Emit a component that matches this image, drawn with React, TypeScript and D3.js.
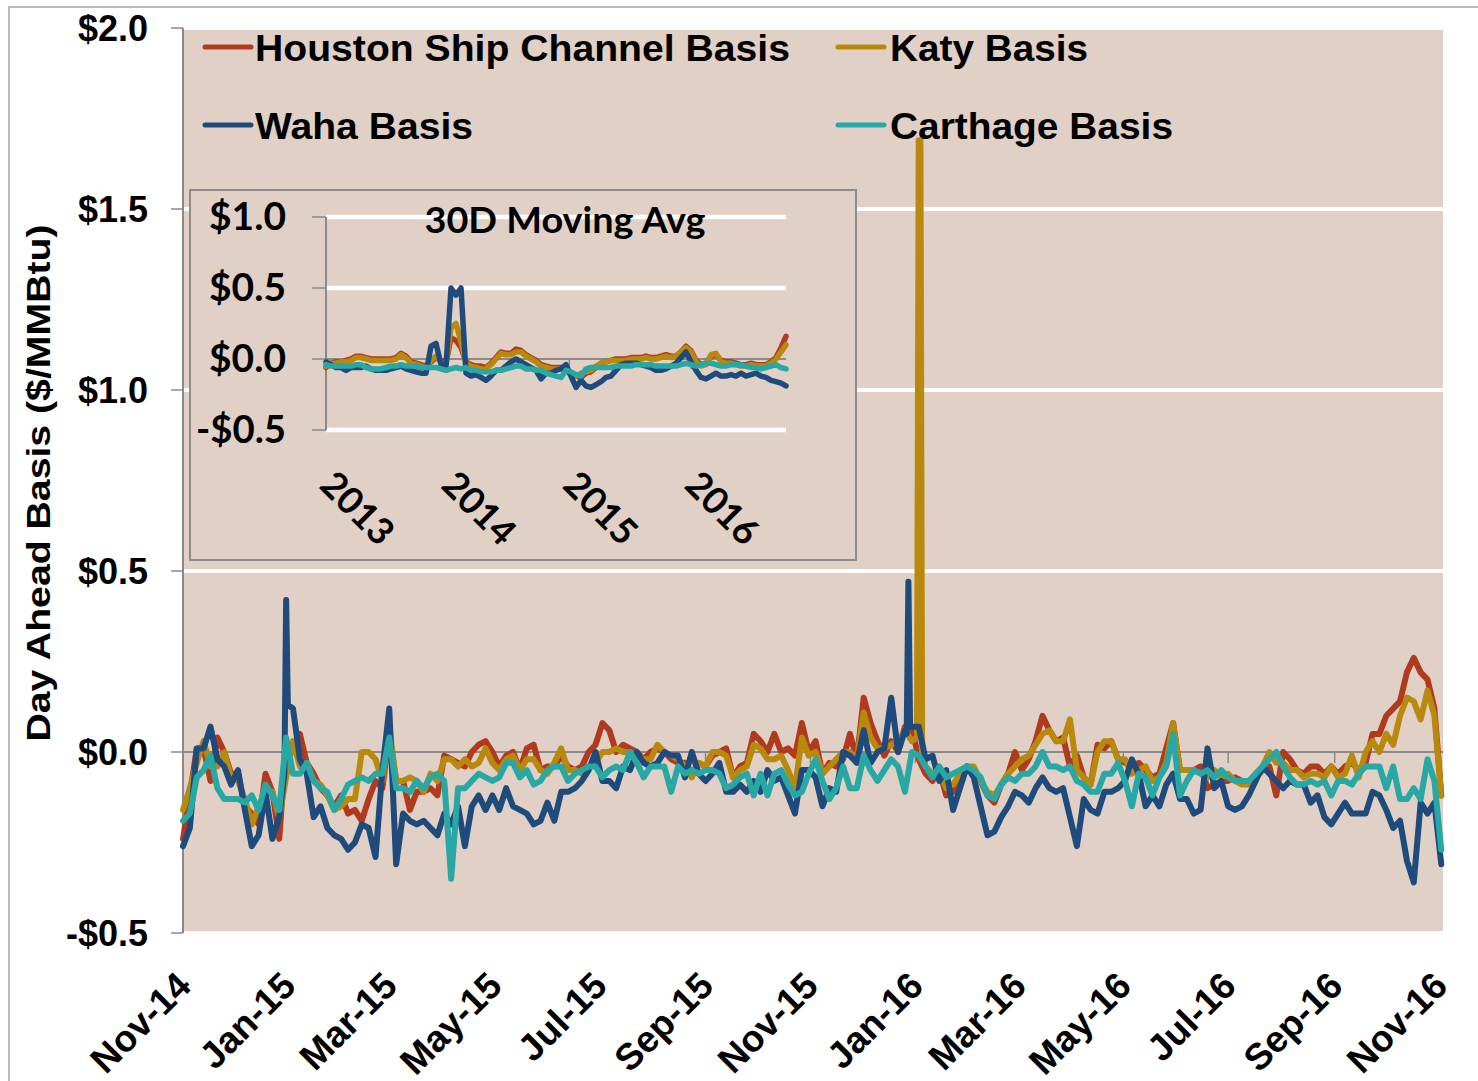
import React from "react";
import * as d3 from "d3";

// ---------- Main chart data (sampled every 4 days from 1 Nov 2014) ----------
const MAIN_START = "2014-11-01";
const MAIN_END = "2016-11-03";
const MAIN_STEP_DAYS = 4;

const hscBasis = [
  -0.24,-0.12,0.01,0.01,-0.08,0.04,0.0,-0.06,-0.06,-0.15,
  -0.17,-0.20,-0.06,-0.11,-0.24,0.02,0.01,0.05,-0.03,-0.06,
  -0.10,-0.12,-0.15,-0.12,-0.17,-0.16,-0.19,-0.13,-0.08,-0.10,
  0.05,-0.08,-0.08,-0.16,-0.11,-0.11,-0.10,-0.12,-0.01,-0.02,
  -0.03,-0.04,0.0,0.02,0.03,0.0,-0.04,-0.01,0.0,-0.05,
  0.01,0.02,-0.05,-0.04,-0.04,-0.01,-0.04,-0.05,-0.04,0.0,
  0.02,0.08,0.06,0.0,0.02,0.01,0.0,-0.02,0.0,0.01,
  0.0,-0.02,-0.03,-0.03,-0.06,-0.03,-0.04,-0.01,0.0,0.01,
  -0.07,-0.04,-0.03,0.05,0.03,0.0,0.05,0.0,0.01,-0.01,
  0.08,0.0,0.03,-0.06,-0.03,-0.04,-0.02,0.05,-0.02,0.15,
  0.08,0.03,-0.01,0.03,0.0,0.07,0.07,-0.02,-0.06,-0.08,
  -0.05,-0.12,-0.11,-0.07,-0.04,-0.05,-0.08,-0.12,-0.14,-0.09,
  -0.06,0.0,-0.05,-0.02,0.03,0.10,0.06,0.03,0.04,-0.04,
  -0.01,-0.07,-0.09,0.02,0.01,0.03,-0.02,-0.03,-0.04,-0.03,
  -0.05,-0.07,-0.06,0.01,0.08,-0.05,-0.05,-0.05,-0.04,-0.10,
  -0.09,-0.08,-0.08,-0.07,-0.08,-0.08,-0.07,-0.05,-0.04,-0.12,
  0.0,-0.02,-0.05,-0.06,-0.04,-0.04,-0.06,-0.04,-0.06,-0.04,
  -0.03,-0.05,-0.03,0.05,0.05,0.10,0.12,0.14,0.22,0.26,
  0.22,0.20,0.12,-0.12,
];

const katyBasis = [
  -0.16,-0.10,-0.03,0.03,-0.04,-0.04,0.0,-0.07,-0.08,-0.13,
  -0.20,-0.15,-0.11,-0.11,-0.18,-0.07,0.03,-0.04,-0.03,-0.08,
  -0.09,-0.12,-0.16,-0.15,-0.13,-0.13,0.0,0.0,-0.02,-0.08,
  0.07,-0.08,-0.08,-0.07,-0.08,-0.11,-0.06,-0.08,-0.02,-0.02,
  -0.04,-0.02,-0.04,-0.03,0.01,-0.03,-0.05,-0.02,-0.01,-0.05,
  -0.02,-0.02,-0.05,-0.06,-0.03,0.01,-0.05,-0.05,-0.06,-0.04,
  -0.03,0.0,0.0,0.01,0.0,0.0,-0.01,-0.02,-0.02,0.02,
  0.0,-0.01,-0.02,-0.04,-0.07,-0.03,-0.04,0.0,0.0,-0.01,
  -0.07,-0.05,-0.04,0.02,0.01,-0.02,-0.02,-0.01,-0.05,-0.10,
  0.04,-0.01,0.0,-0.06,-0.04,-0.02,0.0,0.0,-0.02,0.11,
  0.04,0.01,0.01,0.02,0.03,0.06,0.03,1.69,-0.04,-0.06,
  -0.05,-0.10,-0.09,-0.06,-0.04,-0.04,-0.08,-0.11,-0.12,-0.09,
  -0.06,-0.04,-0.02,-0.01,0.02,0.05,0.06,0.03,0.03,0.09,
  -0.05,-0.07,-0.09,0.0,0.03,0.03,-0.02,-0.02,-0.06,-0.05,
  -0.04,-0.08,-0.07,-0.03,0.08,-0.05,-0.05,-0.05,-0.06,-0.07,
  -0.05,-0.07,-0.06,-0.08,-0.09,-0.09,-0.06,-0.04,0.0,-0.03,
  -0.03,-0.05,-0.05,-0.07,-0.06,-0.06,-0.07,-0.04,-0.07,-0.06,
  -0.01,-0.07,0.0,0.03,0.0,0.05,0.02,0.10,0.15,0.14,
  0.09,0.17,0.10,-0.12,
];

const wahaBasis = [
  -0.26,-0.21,0.01,0.01,0.07,-0.02,-0.04,-0.09,-0.05,-0.16,
  -0.26,-0.23,-0.11,-0.24,-0.18,0.42,0.12,-0.02,-0.06,-0.18,
  -0.15,-0.21,-0.23,-0.24,-0.27,-0.25,-0.20,-0.21,-0.29,-0.05,
  0.12,-0.31,-0.17,-0.19,-0.20,-0.19,-0.21,-0.23,-0.17,-0.20,
  -0.15,-0.26,-0.15,-0.12,-0.16,-0.12,-0.16,-0.10,-0.15,-0.16,
  -0.17,-0.20,-0.19,-0.14,-0.19,-0.11,-0.11,-0.10,-0.08,-0.05,
  0.0,-0.08,-0.08,-0.10,-0.04,-0.05,0.0,-0.03,-0.04,-0.03,
  0.0,-0.01,-0.01,-0.07,0.0,-0.06,-0.08,-0.06,-0.03,-0.11,
  -0.11,-0.09,-0.11,-0.08,-0.11,-0.05,-0.08,-0.07,-0.12,-0.17,
  -0.05,-0.05,-0.07,-0.15,-0.10,-0.11,0.0,-0.01,-0.03,0.06,
  -0.03,0.0,0.01,0.15,0.0,0.06,0.07,0.07,-0.02,-0.01,
  -0.08,-0.05,-0.16,-0.10,-0.04,-0.07,-0.15,-0.23,-0.22,-0.18,
  -0.15,-0.11,-0.12,-0.14,-0.10,-0.07,-0.10,-0.11,-0.10,-0.18,
  -0.26,-0.13,-0.16,-0.17,-0.11,-0.11,-0.10,-0.08,-0.02,-0.06,
  -0.15,-0.12,-0.15,-0.09,-0.06,-0.13,-0.13,-0.17,-0.16,0.01,
  -0.10,-0.08,-0.15,-0.16,-0.15,-0.12,-0.08,-0.04,-0.06,-0.08,
  -0.10,-0.08,-0.09,-0.09,-0.14,-0.12,-0.18,-0.20,-0.17,-0.14,
  -0.17,-0.17,-0.17,-0.11,-0.12,-0.16,-0.21,-0.19,-0.30,-0.36,
  -0.14,-0.17,-0.14,-0.31,
];

const carthageBasis = [
  -0.19,-0.17,-0.07,-0.05,-0.01,-0.10,-0.13,-0.13,-0.13,-0.14,
  -0.12,-0.16,-0.09,-0.12,-0.16,0.04,-0.06,-0.06,-0.03,-0.08,
  -0.10,-0.11,-0.16,-0.13,-0.09,-0.08,-0.07,-0.08,-0.06,-0.06,
  0.04,-0.10,-0.10,-0.11,-0.08,-0.10,-0.07,-0.06,-0.08,-0.35,
  -0.10,-0.10,-0.08,-0.06,-0.07,-0.08,-0.07,-0.03,-0.03,-0.07,
  -0.05,-0.09,-0.08,-0.05,-0.04,-0.04,-0.08,-0.06,-0.05,-0.04,
  -0.04,-0.07,-0.05,-0.04,-0.05,0.0,-0.03,-0.07,-0.04,-0.04,
  -0.04,-0.11,-0.04,-0.06,-0.05,-0.06,-0.05,-0.05,-0.06,-0.10,
  -0.09,-0.07,-0.06,-0.12,-0.06,-0.12,-0.06,-0.05,-0.09,-0.12,
  -0.11,-0.06,-0.02,-0.08,-0.13,-0.10,-0.04,-0.10,-0.10,-0.01,
  -0.05,-0.08,-0.05,-0.02,-0.04,-0.11,0.0,-0.01,-0.04,-0.07,
  -0.04,-0.07,-0.06,-0.05,-0.04,-0.05,-0.07,-0.12,-0.13,-0.09,
  -0.07,-0.08,-0.06,-0.06,-0.04,0.0,-0.04,-0.04,-0.05,-0.04,
  -0.08,-0.09,-0.11,-0.11,-0.06,-0.06,-0.03,-0.08,-0.15,-0.06,
  -0.07,-0.12,-0.07,-0.04,0.05,-0.12,-0.08,-0.05,-0.06,-0.05,
  -0.07,-0.05,-0.07,-0.08,-0.08,-0.08,-0.06,-0.04,-0.02,0.0,
  -0.04,-0.07,-0.09,-0.09,-0.08,-0.09,-0.08,-0.12,-0.08,-0.08,
  -0.09,-0.06,-0.04,-0.04,-0.04,-0.10,-0.04,-0.13,-0.13,-0.10,
  -0.13,-0.02,-0.08,-0.27,
];

// Single-day spikes read between the 4-day samples: [day offset from start, value]
const katySpikeDays = [
  [427, 0.04],
  [429, 1.69],
  [430, 0.0],
];
const wahaSpikeDays = [
  [59, -0.06],
  [61, 0.13],
  [421, 0.05],
  [422, 0.47],
  [423, 0.07],
];
const hscSpikeDays: number[][] = [];
const carthageSpikeDays: number[][] = [];

// ---------- Inset: 30D moving average (sampled every 15 days from 1 Jan 2013) ----------
const INSET_START = "2013-01-01";
const INSET_END = "2016-10-12";
const INSET_STEP_DAYS = 15;

const hscAvg = [
  -0.06,-0.03,-0.02,-0.02,-0.01,0.0,0.02,0.02,0.01,0.0,
  0.0,0.0,0.0,0.0,0.01,0.04,0.02,-0.02,-0.03,-0.04,
  -0.05,-0.02,0.01,-0.01,-0.03,0.15,0.13,0.08,-0.02,-0.04,
  -0.05,-0.05,-0.06,-0.03,0.01,0.05,0.04,0.04,0.07,0.06,
  0.03,0.01,-0.01,-0.04,-0.05,-0.06,-0.06,-0.06,-0.07,-0.10,
  -0.12,-0.13,-0.10,-0.09,-0.06,-0.03,-0.02,-0.01,0.0,0.0,
  0.0,0.01,0.01,0.01,0.02,0.01,0.01,0.02,0.03,0.02,
  0.02,0.05,0.09,0.06,-0.01,-0.04,-0.03,0.02,0.03,-0.01,
  -0.02,-0.02,-0.03,-0.04,-0.04,-0.03,-0.04,-0.04,-0.04,-0.02,
  0.01,0.08,0.16,
];

const katyAvg = [
  -0.05,-0.03,-0.03,-0.02,-0.02,-0.01,0.01,0.01,0.0,-0.01,
  -0.01,-0.01,-0.01,-0.01,0.0,0.03,0.01,-0.03,-0.04,-0.05,
  -0.06,-0.01,0.02,-0.02,-0.04,0.22,0.25,0.12,-0.03,-0.05,
  -0.06,-0.07,-0.07,-0.04,0.0,0.04,0.03,0.03,0.05,0.05,
  0.02,0.0,-0.02,-0.05,-0.06,-0.07,-0.07,-0.07,-0.08,-0.11,
  -0.12,-0.10,-0.09,-0.08,-0.05,-0.03,-0.02,-0.01,-0.01,-0.01,
  -0.01,0.0,0.0,0.0,0.01,0.0,0.0,0.01,0.02,0.01,
  0.02,0.05,0.08,0.05,-0.02,-0.05,-0.04,0.03,0.04,-0.02,
  -0.03,-0.03,-0.04,-0.05,-0.05,-0.04,-0.05,-0.05,-0.05,-0.03,
  0.0,0.05,0.10,
];

const wahaAvg = [
  -0.02,-0.04,-0.06,-0.06,-0.08,-0.06,-0.06,-0.06,-0.05,-0.07,
  -0.08,-0.08,-0.08,-0.07,-0.06,-0.05,-0.07,-0.08,-0.09,-0.10,
  -0.10,0.09,0.11,-0.04,-0.05,0.50,0.45,0.50,-0.10,-0.12,
  -0.11,-0.13,-0.15,-0.12,-0.08,-0.08,-0.05,-0.02,0.0,-0.02,
  -0.04,-0.06,-0.08,-0.14,-0.10,-0.10,-0.08,-0.07,-0.04,-0.12,
  -0.20,-0.15,-0.19,-0.20,-0.18,-0.16,-0.13,-0.12,-0.08,-0.04,
  -0.03,-0.03,-0.03,-0.04,-0.05,-0.06,-0.08,-0.08,-0.07,-0.05,
  -0.03,0.01,0.05,-0.02,-0.08,-0.13,-0.14,-0.12,-0.10,-0.12,
  -0.12,-0.11,-0.12,-0.10,-0.12,-0.11,-0.10,-0.12,-0.13,-0.15,
  -0.16,-0.17,-0.19,
];

const carthageAvg = [
  -0.04,-0.05,-0.05,-0.05,-0.05,-0.05,-0.04,-0.04,-0.06,-0.07,
  -0.07,-0.07,-0.06,-0.05,-0.05,-0.04,-0.05,-0.05,-0.05,-0.06,
  -0.06,-0.06,-0.06,-0.07,-0.08,-0.07,-0.06,-0.07,-0.06,-0.08,
  -0.08,-0.09,-0.09,-0.09,-0.08,-0.08,-0.07,-0.06,-0.05,-0.05,
  -0.07,-0.07,-0.08,-0.08,-0.10,-0.11,-0.12,-0.13,-0.08,-0.09,
  -0.11,-0.12,-0.07,-0.06,-0.06,-0.06,-0.06,-0.06,-0.05,-0.05,
  -0.05,-0.05,-0.04,-0.04,-0.04,-0.04,-0.05,-0.05,-0.05,-0.05,
  -0.05,-0.04,-0.03,-0.04,-0.05,-0.04,-0.03,-0.03,-0.04,-0.05,
  -0.05,-0.04,-0.04,-0.04,-0.05,-0.06,-0.06,-0.07,-0.06,-0.05,
  -0.04,-0.06,-0.07,
];

const mainYTicks = [-0.5, 0, 0.5, 1.0, 1.5, 2.0];
const insetYTicks = [-0.5, 0, 0.5, 1.0];

const seriesNames = ["Houston Ship Channel Basis", "Katy Basis", "Waha Basis", "Carthage Basis"];
const seriesColors = ["#B03A1E", "#B8890C", "#1F4A7C", "#27A8A4"];

const BG = "#E0D0C6";
const AXIS = "#8A8A8A";
const FONT = "'Liberation Sans', Arial, sans-serif";
const IFONT = "Lato, 'Open Sans', sans-serif";

const fmtMoney = (v: number) => (v < 0 ? "-$" : "$") + Math.abs(v).toFixed(1);

type Pt = { d: Date; v: number };

export default function App() {
  const parse = d3.timeParse("%Y-%m-%d");
  const m0 = parse(MAIN_START)!;
  const m1 = parse(MAIN_END)!;
  const i0 = parse(INSET_START)!;
  const i1 = parse(INSET_END)!;

  // main scales
  const x = d3.scaleTime().domain([m0, m1]).range([183, 1443]);
  const y = d3.scaleLinear().domain([-0.5, 2.0]).range([933, 28]);

  const buildMain = (vals: number[], spikes: number[][]): Pt[] => {
    const pts: Pt[] = vals.map((v, i) => ({ d: d3.timeDay.offset(m0, i * MAIN_STEP_DAYS), v }));
    spikes.forEach(([day, v]) => pts.push({ d: d3.timeDay.offset(m0, day), v }));
    return pts.sort((a, b) => +a.d - +b.d);
  };
  const mainLine = d3
    .line<Pt>()
    .x((p) => x(p.d))
    .y((p) => y(p.v));

  // inset scales
  const ix = d3.scaleTime().domain([i0, i1]).range([326, 786]);
  const iy = d3.scaleLinear().domain([-0.5, 1.0]).range([430, 217]);
  const insetDates = hscAvg.map((_, i) => d3.timeDay.offset(i0, i * INSET_STEP_DAYS));
  const insetLine = d3
    .line<number>()
    .x((_, i) => ix(insetDates[i]))
    .y((v) => iy(v));

  const mainSeries = [
    buildMain(hscBasis, hscSpikeDays),
    buildMain(katyBasis, katySpikeDays),
    buildMain(wahaBasis, wahaSpikeDays),
    buildMain(carthageBasis, carthageSpikeDays),
  ];
  const insetSeries = [hscAvg, katyAvg, wahaAvg, carthageAvg];

  const xTicks = x.ticks(d3.timeMonth.every(2)!);
  const fmtX = d3.timeFormat("%b-%y");
  const ixTicks = ix.ticks(d3.timeYear.every(1)!);
  const fmtIX = d3.timeFormat("%Y");

  const [xr0, xr1] = x.range();
  const [ixr0, ixr1] = ix.range();

  const legend = [
    { lx: 205, ly: 47, tx: 255, ty: 61, len: 535 },
    { lx: 838, ly: 47, tx: 890, ty: 61, len: 198 },
    { lx: 205, ly: 125, tx: 255, ty: 139, len: 218 },
    { lx: 838, ly: 125, tx: 890, ty: 139, len: 283 },
  ];

  return (
    <svg
      width={1478}
      height={1081}
      style={{ position: "absolute", left: 0, top: 0, background: "#fff" }}
    >
      <rect x={9} y={7} width={1480} height={1090} fill="#fff" stroke="#A6A6A6" strokeWidth={1.5} />

      {/* plot background */}
      <rect x={xr0} y={y(2.0)} width={xr1 - xr0} height={y(-0.5) - y(2.0)} fill={BG} />

      {/* gridlines */}
      {mainYTicks
        .filter((t) => t !== 0)
        .map((t) => (
          <line key={"g" + t} x1={xr0} x2={xr1} y1={y(t)} y2={y(t)} stroke="#fff" strokeWidth={4} />
        ))}

      {/* zero line with x ticks */}
      <line x1={xr0} x2={xr1} y1={y(0)} y2={y(0)} stroke={AXIS} strokeWidth={2} />
      {xTicks.map((t, i) => (
        <line key={"xt" + i} x1={x(t)} x2={x(t)} y1={y(0)} y2={y(0) + 11} stroke={AXIS} strokeWidth={1.5} />
      ))}

      {/* y axis */}
      <line x1={xr0} x2={xr0} y1={y(2.0)} y2={y(-0.5)} stroke={AXIS} strokeWidth={2} />
      {mainYTicks.map((t) => (
        <g key={"yt" + t}>
          <line x1={xr0 - 12} x2={xr0} y1={y(t)} y2={y(t)} stroke={AXIS} strokeWidth={1.5} />
          <text
            x={148}
            y={y(t) + 13}
            textAnchor="end"
            fontFamily={FONT}
            fontWeight="bold"
            fontSize={36}
            fill="#000"
          >
            {fmtMoney(t)}
          </text>
        </g>
      ))}

      {/* y axis title */}
      <text
        transform={`translate(50,483) rotate(-90)`}
        textAnchor="middle"
        fontFamily={FONT}
        fontWeight="bold"
        fontSize={33}
        textLength={517}
        lengthAdjust="spacingAndGlyphs"
        fill="#000"
      >
        Day Ahead Basis ($/MMBtu)
      </text>

      {/* x labels */}
      {xTicks.map((t, i) => (
        <text
          key={"xl" + i}
          transform={`translate(${x(t) + 10},988) rotate(-45)`}
          textAnchor="end"
          fontFamily={FONT}
          fontWeight="bold"
          fontSize={37}
          fill="#000"
        >
          {fmtX(t)}
        </text>
      ))}

      {/* main series */}
      {mainSeries.map((s, i) => (
        <path
          key={"s" + i}
          d={mainLine(s) || ""}
          fill="none"
          stroke={seriesColors[i]}
          strokeWidth={6}
          strokeLinejoin="round"
          strokeLinecap="round"
        />
      ))}

      {/* legend */}
      {legend.map((L, i) => (
        <g key={"lg" + i}>
          <line
            x1={L.lx}
            x2={L.lx + 46}
            y1={L.ly}
            y2={L.ly}
            stroke={seriesColors[i]}
            strokeWidth={5}
            strokeLinecap="round"
          />
          <text
            x={L.tx}
            y={L.ty}
            fontFamily={FONT}
            fontWeight="bold"
            fontSize={36}
            textLength={L.len}
            lengthAdjust="spacingAndGlyphs"
            fill="#000"
          >
            {seriesNames[i]}
          </text>
        </g>
      ))}

      {/* inset */}
      <rect x={190} y={190} width={666} height={370} fill={BG} stroke="#8C8C8C" strokeWidth={2} />
      {insetYTicks
        .filter((t) => t !== 0)
        .map((t) => (
          <line key={"ig" + t} x1={ixr0} x2={ixr1} y1={iy(t)} y2={iy(t)} stroke="#fff" strokeWidth={4.5} />
        ))}
      <line x1={ixr0} x2={ixr1} y1={iy(0)} y2={iy(0)} stroke={AXIS} strokeWidth={2} />
      {ixTicks.map((t, i) => (
        <line key={"ixt" + i} x1={ix(t)} x2={ix(t)} y1={iy(0)} y2={iy(0) + 10} stroke={AXIS} strokeWidth={1.5} />
      ))}
      <line x1={ixr0} x2={ixr0} y1={iy(1.0)} y2={iy(-0.5)} stroke={AXIS} strokeWidth={2} />
      {insetYTicks.map((t) => (
        <g key={"iyt" + t}>
          <line x1={ixr0 - 14} x2={ixr0} y1={iy(t)} y2={iy(t)} stroke={AXIS} strokeWidth={1.5} />
          <text
            x={286}
            y={iy(t) + 13}
            textAnchor="end"
            fontFamily={IFONT}
            fontWeight="bold"
            fontSize={38}
            textLength={t < 0 ? 90 : 77}
            lengthAdjust="spacingAndGlyphs"
            fill="#000"
          >
            {fmtMoney(t)}
          </text>
        </g>
      ))}
      {ixTicks.map((t, i) => (
        <text
          key={"ixl" + i}
          transform={`translate(${ix(t) - 8},487) rotate(45)`}
          textAnchor="start"
          fontFamily={IFONT}
          fontWeight="bold"
          fontSize={37}
          fill="#000"
        >
          {fmtIX(t)}
        </text>
      ))}
      <text
        x={565}
        y={233}
        textAnchor="middle"
        fontFamily={IFONT}
        fontWeight="bold"
        fontSize={36}
        textLength={281}
        lengthAdjust="spacingAndGlyphs"
        fill="#000"
      >
        30D Moving Avg
      </text>
      {insetSeries.map((s, i) => (
        <path
          key={"is" + i}
          d={insetLine(s) || ""}
          fill="none"
          stroke={seriesColors[i]}
          strokeWidth={5.5}
          strokeLinejoin="round"
          strokeLinecap="round"
        />
      ))}
    </svg>
  );
}
